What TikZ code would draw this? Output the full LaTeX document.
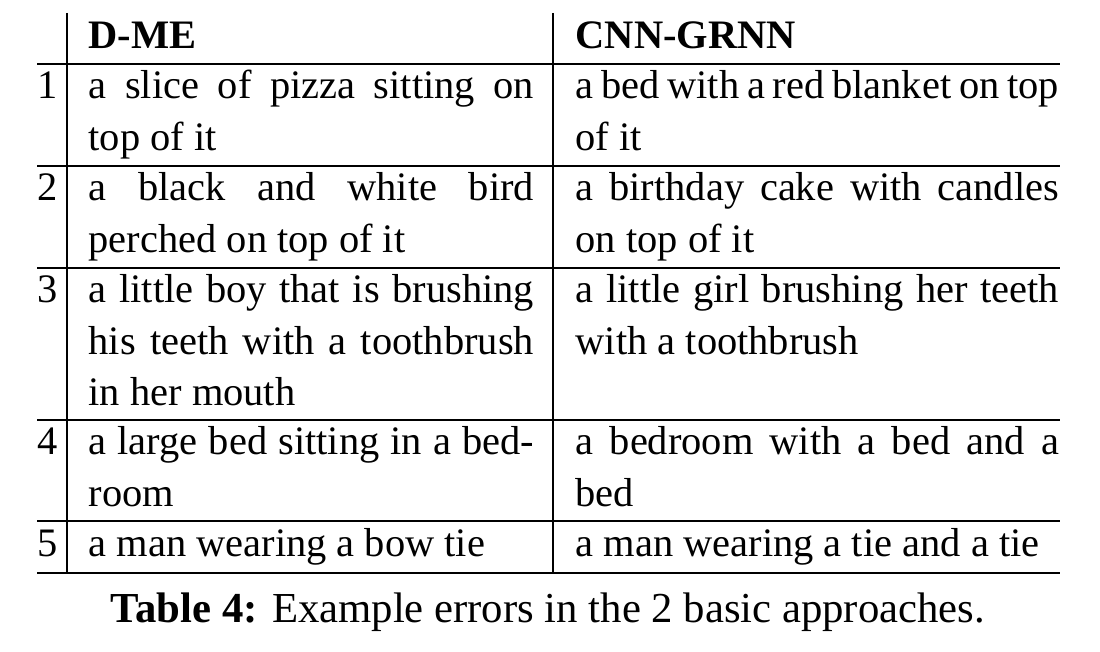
\documentclass[tikz,border=0pt]{standalone}
\usepackage{fontspec}
\setmainfont{Liberation Serif}
\newcommand{\tabfont}{\fontsize{11.5pt}{14.51pt}\selectfont}
\newcommand{\capfont}{\fontsize{12.15pt}{14.5pt}\selectfont}
\begin{document}
\begin{tikzpicture}
[
  x=0.01cm, y=-0.01cm,
  cell/.style={anchor=base west, inner sep=0pt, font=\tabfont},
  colA/.style={cell, text width=4.45cm, align=justify},
  colB/.style={cell, text width=4.83cm, align=justify},
  head/.style={cell, font=\tabfont\bfseries},
  rule/.style={line width=0.55pt}
]
\useasboundingbox (0,0) rectangle (1100,652);

% header row
\node[head] (hA) at (88,49) {D-ME};
\node[head] (hB) at (575,49) {CNN-GRNN};

% row numbers
\node[cell] (n1) at (37,99) {1};
\node[cell] (n2) at (37,201) {2};
\node[cell] (n3) at (37,303) {3};
\node[cell] (n4) at (37,455) {4};
\node[cell] (n5) at (37,557) {5};

% D-ME column
\node[colA] (a1) at (88,99) {a slice of pizza sitting on\linebreak top of it};
\node[colA] (a2) at (88,201) {a black and white bird\linebreak perched on top of it};
\node[colA] (a3) at (88,303) {a little boy that is brushing\linebreak his teeth with a toothbrush\linebreak in her mouth};
\node[colA] (a4) at (88,455) {a large bed sitting in a bed-\linebreak room};
\node[colA] (a5) at (88,557) {a man wearing a bow tie};

% CNN-GRNN column
\node[colB] (b1) at (575,99) {a bed with a red blanket on top\linebreak of it};
\node[colB] (b2) at (575,201) {a birthday cake with candles\linebreak on top of it};
\node[colB] (b3) at (575,303) {a little girl brushing her teeth\linebreak with a toothbrush};
\node[colB] (b4) at (575,455) {a bedroom with a bed and a\linebreak bed};
\node[colB] (b5) at (575,557) {a man wearing a tie and a tie};

% rules
\draw[rule] (67,13) -- (67,573);
\draw[rule] (553,13) -- (553,573);
\foreach \y in {64,166,268,420,521,573}
  \draw[rule] (37,\y) -- (1060,\y);

% caption
\node[anchor=base, inner sep=0pt, font=\capfont] (cap) at (548,622)
  {\textbf{Table 4:} Example errors in the 2 basic approaches.};
\end{tikzpicture}
\end{document}
